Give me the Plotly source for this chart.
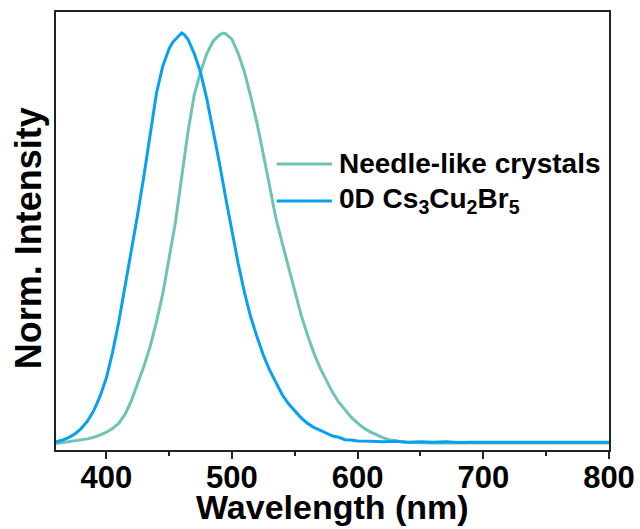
import plotly.graph_objects as go

# Normalised photoluminescence spectra (wavelength in nm, intensity normalised to peak)
needle_wl = [360, 365, 370, 375, 380, 385, 390, 395, 400, 405, 410, 415, 420, 425,
             430, 435, 440, 445, 450, 455, 460, 465, 470, 475, 480, 485, 490, 493,
             495, 500, 505, 510, 515, 520, 525, 530, 535, 540, 545, 550, 555, 560,
             565, 570, 575, 580, 585, 590, 595, 600, 605, 610, 615, 620, 625, 630,
             635, 640, 650, 660, 680, 700, 720, 740, 760, 780, 800]
needle_int = [0.004, 0.006, 0.008, 0.010, 0.012, 0.015, 0.019, 0.024, 0.031, 0.040,
              0.053, 0.075, 0.108, 0.148, 0.192, 0.240, 0.300, 0.368, 0.450, 0.540,
              0.650, 0.760, 0.850, 0.905, 0.950, 0.980, 0.995, 1.000, 0.998, 0.985,
              0.950, 0.905, 0.845, 0.780, 0.705, 0.625, 0.550, 0.490, 0.430, 0.370,
              0.316, 0.268, 0.225, 0.188, 0.156, 0.128, 0.104, 0.084, 0.067, 0.053,
              0.041, 0.032, 0.024, 0.018, 0.013, 0.010, 0.008, 0.006, 0.005, 0.005,
              0.005, 0.005, 0.005, 0.005, 0.005, 0.005, 0.005]

cs_wl = [360, 365, 370, 375, 380, 385, 390, 395, 400, 405, 410, 415, 420, 425, 430,
         435, 440, 445, 450, 453, 456, 458, 460, 462, 465, 470, 475, 480,
         485, 490, 495, 500, 505, 510, 515, 520, 525, 530, 535, 540, 545, 550, 555,
         560, 565, 570, 575, 580, 585, 590, 595, 600, 610, 620, 630, 640, 650, 660,
         670, 680, 690, 700, 710, 720, 730, 740, 750, 760, 770, 780, 790, 800]
cs_int = [0.008, 0.012, 0.018, 0.027, 0.040, 0.058, 0.083, 0.118, 0.162, 0.225,
          0.300, 0.385, 0.470, 0.560, 0.655, 0.750, 0.855, 0.920, 0.962, 0.978,
          0.988, 0.992, 1.000, 0.996, 0.985, 0.950, 0.905, 0.840,
          0.765, 0.685, 0.600, 0.520, 0.440, 0.370, 0.310, 0.262, 0.218, 0.182,
          0.150, 0.122, 0.100, 0.082, 0.066, 0.053, 0.043, 0.036, 0.028, 0.022,
          0.019, 0.013, 0.012, 0.010, 0.009, 0.008, 0.009, 0.007, 0.008, 0.007,
          0.008, 0.006, 0.007, 0.007, 0.006, 0.007, 0.006, 0.007, 0.006, 0.006,
          0.007, 0.006, 0.006, 0.007]

x_ticks = [400, 500, 600, 700, 800]

needle_color = "#6EC4B4"
cs_color = "#0AA0F2"
font_family = "Liberation Sans, Arial, sans-serif"

series = [
    ("Needle-like crystals", needle_wl, needle_int, needle_color),
    ("0D Cs<sub>3</sub>Cu<sub>2</sub>Br<sub>5</sub>", cs_wl, cs_int, cs_color),
]

fig = go.Figure()
for name, wl, inten, color in series:
    fig.add_trace(go.Scatter(x=wl, y=inten, mode="lines", name=name,
                             line=dict(color=color, width=3), showlegend=False))

# Hand-placed legend: sample line plus bold label for each series
legend_rows = [0.653, 0.5685]
for (name, _, _, color), yrow in zip(series, legend_rows):
    fig.add_shape(type="line", xref="paper", yref="paper",
                  x0=0.399, x1=0.499, y0=yrow, y1=yrow,
                  line=dict(color=color, width=3))
    fig.add_annotation(xref="paper", yref="paper", x=0.508, y=yrow,
                       text=f"<b>{name}</b>", showarrow=False,
                       xanchor="left", yanchor="middle",
                       font=dict(family=font_family, size=28, color="black"))

# Axis titles
fig.add_annotation(xref="paper", yref="paper", x=-0.05, y=0.484,
                   text="<b>Norm. Intensity</b>", textangle=-90, showarrow=False,
                   xanchor="center", yanchor="middle",
                   font=dict(family=font_family, size=36, color="black"))
fig.add_annotation(xref="paper", yref="paper", x=0.5, y=-0.129,
                   text="<b>Wavelength (nm)</b>", showarrow=False,
                   xanchor="center", yanchor="middle",
                   font=dict(family=font_family, size=34, color="black"))

fig.update_layout(
    template="none",
    width=640, height=529,
    margin=dict(l=55.5, r=30.5, t=12, b=79, autoexpand=False),
    paper_bgcolor="white", plot_bgcolor="white",
    font=dict(family=font_family, color="black"),
)
fig.update_xaxes(
    range=[360, 800], tickvals=x_ticks, ticktext=[f"<b>{v}</b>" for v in x_ticks],
    ticks="outside", ticklen=7, tickwidth=1.5, tickcolor="#222",
    minor=dict(dtick=50, ticks="outside", ticklen=4, tickwidth=1.5, tickcolor="#222"),
    tickfont=dict(size=31, family=font_family), ticklabelstandoff=-8,
    showline=True, linecolor="#222", linewidth=1.5, mirror=True,
    showgrid=False, zeroline=False, automargin=False,
)
fig.update_yaxes(
    range=[-0.012, 1.051], showticklabels=False, ticks="",
    showline=True, linecolor="#222", linewidth=1.5, mirror=True,
    showgrid=False, zeroline=False, automargin=False,
)

fig.write_html("out.html")
